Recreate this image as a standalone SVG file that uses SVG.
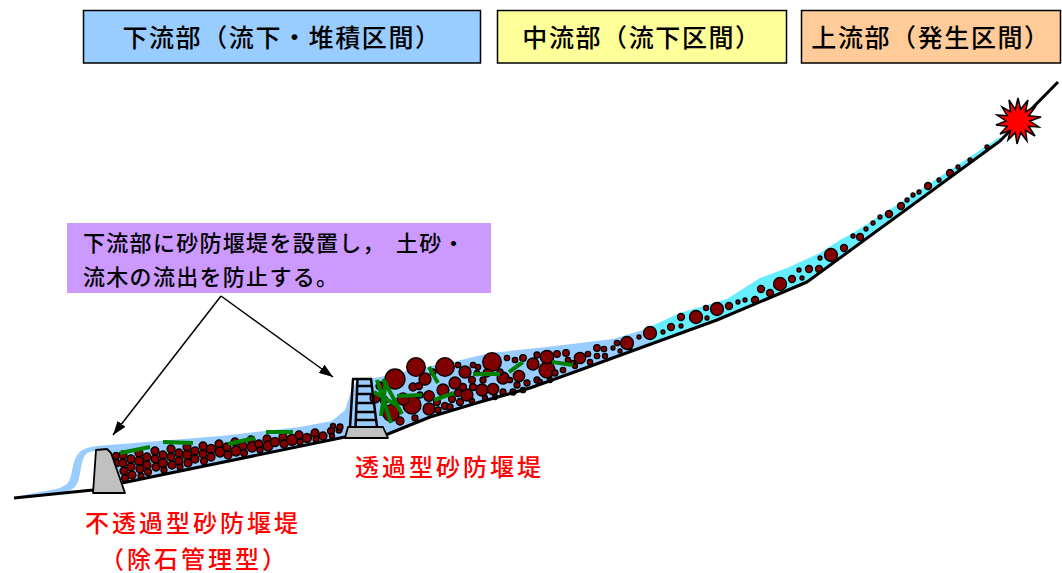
<svg xmlns="http://www.w3.org/2000/svg" width="1062" height="573" viewBox="0 0 1062 573">
<style>
.hdr{stroke:#000;stroke-width:1.5}
.ht{font-family:"Noto Sans CJK JP","Noto Sans CJK SC",sans-serif;font-weight:500;font-size:25px;letter-spacing:1.6px;fill:#000;text-anchor:middle}
.ct{font-family:"Noto Sans CJK JP","Noto Sans CJK SC",sans-serif;font-weight:500;font-size:22px;letter-spacing:1.3px;fill:#000}
.rt{font-family:"Noto Sans CJK JP","Noto Sans CJK SC",sans-serif;font-weight:500;font-size:24px;letter-spacing:3px;fill:#ff0000}
.b circle{fill:#800000;stroke:#000;stroke-width:1.3}
.w line{stroke:#008000;stroke-width:4}
.gl{fill:none;stroke:#000;stroke-width:3;stroke-linejoin:round}
.lad{stroke:#000;fill:none;stroke-width:2.5}
.conn line{stroke:#000;stroke-width:1.5}
.dam{fill:#c0c0c0;stroke:#000;stroke-width:1.8;stroke-linejoin:round}
</style>
<defs>
<marker id="ah" viewBox="0 0 14 10" refX="14" refY="5" markerWidth="14" markerHeight="10" markerUnits="userSpaceOnUse" orient="auto"><path d="M0,0 L14,5 L0,10 Z" fill="#000"/></marker>
</defs>
<rect width="1062" height="573" fill="#fff"/>

<g id="hdr-lower"><rect class="hdr" x="83.5" y="10.5" width="397" height="52.5" fill="#99ccff"/><text class="ht" x="282" y="47">下流部（流下・堆積区間）</text></g>
<g id="hdr-middle"><rect class="hdr" x="497.5" y="10.5" width="289" height="52.5" fill="#ffff99"/><text class="ht" x="642" y="47">中流部（流下区間）</text></g>
<g id="hdr-upper"><rect class="hdr" x="801.5" y="10.5" width="259" height="52.5" fill="#ffcc99"/><text class="ht" x="931" y="47">上流部（発生区間）</text></g>

<g id="water">
<path fill="#66eeff" d="M605,342 L643,330 L680,313 L727,299 L760,278 L787,268 L820,253 L840,240 L853,233 L900,203 L1000,137 L1003,140 L807,283 L717,321 L640,349 L605,360 Z"/>
<path fill="#99ccff" d="M14,497 L56,489 C65,487 69,483 71,476 C73,466 74,459 78,454 C82,449 88,447 97,446 L97,451 C90,451 86,453 84,457 C81,463 81,471 79,478 C77,487 72,491 62,493 Z"/>
<path fill="#99ccff" d="M97,446 L220,436 L300,427 L332,421 L345,410 L351,392 L357,380 L380,377 L420,368 L457,361 L490,353 L547,347 L613,339 L640,331 L650,330 L650,345 L640,348 L580,370 L530,388 L480,402 L430,417 L388,434 L345,438 L122,483 L97,483 Z"/>
</g>

<g id="boulders" class="b">
<circle cx="116" cy="456" r="3.5"/><circle cx="117" cy="463" r="3.5"/>
<circle cx="123" cy="455" r="4"/><circle cx="123" cy="463" r="4"/><circle cx="124" cy="471" r="4"/><circle cx="125" cy="478" r="3.5"/>
<circle cx="131" cy="459" r="4"/><circle cx="131" cy="467" r="4"/><circle cx="132" cy="475" r="4"/>
<circle cx="139" cy="453" r="4"/><circle cx="139" cy="461" r="4.5"/><circle cx="140" cy="469" r="4"/><circle cx="141" cy="476" r="3"/>
<circle cx="147" cy="457" r="4"/><circle cx="147" cy="465" r="4"/><circle cx="148" cy="472" r="3.5"/>
<circle cx="155" cy="451" r="4"/><circle cx="155" cy="459" r="4"/><circle cx="156" cy="467" r="4"/>
<circle cx="163" cy="455" r="4"/><circle cx="163" cy="463" r="4.5"/><circle cx="164" cy="470" r="3"/>
<circle cx="171" cy="449" r="4"/><circle cx="171" cy="457" r="4"/><circle cx="172" cy="465" r="4"/>
<circle cx="179" cy="453" r="4"/><circle cx="179" cy="461" r="4"/><circle cx="180" cy="467" r="3"/>
<circle cx="187" cy="447" r="4"/><circle cx="187" cy="455" r="4.5"/><circle cx="188" cy="463" r="4"/>
<circle cx="195" cy="451" r="4"/><circle cx="195" cy="459" r="4"/>
<circle cx="203" cy="446" r="4"/><circle cx="203" cy="454" r="4"/><circle cx="204" cy="461" r="3.5"/>
<circle cx="211" cy="449" r="4.5"/><circle cx="211" cy="457" r="4"/>
<circle cx="219" cy="444" r="4"/><circle cx="220" cy="452" r="5"/>
<circle cx="227" cy="447" r="4"/><circle cx="228" cy="455" r="4"/>
<circle cx="235" cy="442" r="4"/><circle cx="236" cy="451" r="5"/>
<circle cx="243" cy="446" r="4"/><circle cx="244" cy="453" r="3.5"/>
<circle cx="251" cy="440" r="4"/><circle cx="252" cy="447" r="5"/>
<circle cx="259" cy="444" r="4"/><circle cx="260" cy="450" r="3"/>
<circle cx="267" cy="439" r="4"/><circle cx="268" cy="446" r="5"/>
<circle cx="275" cy="442" r="4.5"/>
<circle cx="283" cy="437" r="4"/><circle cx="284" cy="444" r="4"/>
<circle cx="292" cy="440" r="5.5"/>
<circle cx="299" cy="435" r="4"/><circle cx="300" cy="442" r="3"/>
<circle cx="307" cy="438" r="4.5"/>
<circle cx="315" cy="433" r="4"/><circle cx="316" cy="439" r="3"/>
<circle cx="323" cy="436" r="4"/>
<circle cx="331" cy="431" r="3.5"/><circle cx="332" cy="436" r="2.5"/>
<circle cx="339" cy="430" r="3"/>

<circle cx="375" cy="398" r="5"/><circle cx="380" cy="386" r="4"/><circle cx="384" cy="400" r="4"/>
<circle cx="395" cy="379" r="10"/><circle cx="416" cy="367" r="9.3"/><circle cx="445" cy="367" r="9.3"/><circle cx="492" cy="362" r="9.3"/>
<circle cx="391" cy="413" r="8.3"/><circle cx="412" cy="405" r="9"/>
<circle cx="547" cy="370" r="8"/><circle cx="547" cy="357" r="6.7"/>
<circle cx="425" cy="379" r="6"/><circle cx="403" cy="399" r="6"/><circle cx="429" cy="409" r="6"/><circle cx="443" cy="390" r="6"/>
<circle cx="455" cy="383" r="6"/><circle cx="465" cy="372" r="6"/><circle cx="467" cy="395" r="6"/><circle cx="482" cy="390" r="6"/>
<circle cx="429" cy="396" r="5.3"/><circle cx="493" cy="389" r="5.7"/><circle cx="503" cy="378" r="6"/><circle cx="519" cy="376" r="5.7"/>
<circle cx="533" cy="364" r="6"/><circle cx="580" cy="358" r="5.7"/>
<circle cx="413" cy="387" r="4"/><circle cx="419" cy="386" r="3.5"/><circle cx="437" cy="402" r="3.5"/><circle cx="445" cy="406" r="3.5"/>
<circle cx="452" cy="399" r="3.5"/><circle cx="460" cy="402" r="3.5"/><circle cx="458" cy="393" r="3.5"/><circle cx="463" cy="387" r="3.5"/>
<circle cx="473" cy="387" r="3.5"/><circle cx="472" cy="380" r="3.5"/><circle cx="477" cy="373" r="2.7"/><circle cx="478" cy="367" r="2.7"/>
<circle cx="473" cy="365" r="2.7"/><circle cx="458" cy="365" r="2.7"/><circle cx="487" cy="373" r="4"/><circle cx="500" cy="372" r="3"/>
<circle cx="507" cy="358" r="2.7"/><circle cx="515" cy="360" r="2.7"/><circle cx="523" cy="358" r="3.3"/><circle cx="510" cy="380" r="2.7"/>
<circle cx="517" cy="385" r="3"/><circle cx="527" cy="383" r="3"/><circle cx="537" cy="380" r="3"/><circle cx="503" cy="392" r="3"/>
<circle cx="513" cy="392" r="3"/><circle cx="523" cy="390" r="2.7"/><circle cx="537" cy="355" r="3"/><circle cx="557" cy="354" r="3.3"/>
<circle cx="566" cy="353" r="3.3"/><circle cx="555" cy="373" r="3"/><circle cx="563" cy="370" r="2.7"/><circle cx="568" cy="360" r="2.7"/>
<circle cx="573" cy="363" r="2.7"/><circle cx="588" cy="354" r="2.7"/><circle cx="590" cy="362" r="2.7"/><circle cx="597" cy="348" r="3.3"/>
<circle cx="597" cy="356" r="2.7"/><circle cx="604" cy="349" r="2.7"/><circle cx="617" cy="343" r="2.7"/><circle cx="613" cy="348" r="2"/>
<circle cx="400" cy="421" r="4"/><circle cx="415" cy="418" r="3"/><circle cx="420" cy="395" r="3"/><circle cx="438" cy="410" r="3"/>
<circle cx="450" cy="407" r="3"/><circle cx="472" cy="401" r="2.5"/><circle cx="485" cy="398" r="2.5"/><circle cx="495" cy="397" r="2.5"/>
<circle cx="433" cy="372" r="3"/><circle cx="483" cy="380" r="3"/><circle cx="540" cy="382" r="2.5"/><circle cx="550" cy="380" r="2.5"/>
<circle cx="575" cy="366" r="2.5"/><circle cx="605" cy="356" r="2.5"/><circle cx="620" cy="351" r="2"/><circle cx="630" cy="348" r="2"/>
<circle cx="333" cy="426" r="2.5"/><circle cx="340" cy="427" r="3"/>

<circle cx="627" cy="343" r="6.5"/><circle cx="650" cy="333" r="6.5"/><circle cx="639" cy="337" r="2"/><circle cx="663" cy="332" r="2"/>
<circle cx="671" cy="327" r="3.5"/><circle cx="681" cy="317" r="3.5"/><circle cx="681" cy="326" r="2"/><circle cx="696" cy="317" r="6.5"/>
<circle cx="706" cy="308" r="2.5"/><circle cx="707" cy="318" r="2"/><circle cx="717" cy="309" r="6.5"/><circle cx="729" cy="306" r="3.5"/>
<circle cx="738" cy="302" r="2"/><circle cx="745" cy="300" r="2"/><circle cx="755" cy="300" r="3.5"/><circle cx="761" cy="289" r="3.5"/>
<circle cx="770" cy="293" r="3.5"/><circle cx="780" cy="284" r="6.5"/><circle cx="792" cy="279" r="3.5"/><circle cx="799" cy="270" r="2"/>
<circle cx="802" cy="278" r="2"/><circle cx="809" cy="269" r="3.5"/><circle cx="819" cy="269" r="3.5"/><circle cx="820" cy="258" r="2"/>
<circle cx="831" cy="255" r="6.5"/><circle cx="844" cy="248" r="3.5"/><circle cx="853" cy="236" r="2"/><circle cx="860" cy="237" r="3.5"/>
<circle cx="866" cy="229" r="2"/><circle cx="873" cy="223" r="2"/><circle cx="880" cy="217" r="2"/><circle cx="889" cy="214" r="3.5"/>
<circle cx="901" cy="206" r="3.5"/><circle cx="907" cy="200" r="2"/><circle cx="913" cy="195" r="2"/><circle cx="919" cy="192" r="2"/>
<circle cx="928" cy="186" r="3.5"/><circle cx="939" cy="180" r="2"/><circle cx="950" cy="173" r="3.5"/><circle cx="958" cy="167" r="2"/>
<circle cx="970" cy="160" r="2"/><circle cx="987" cy="147" r="2"/>
</g>

<path id="ground" class="gl" d="M14,498 L93,490 L122,483 L345,437 L388,434 L430,417 L480,402 L530,388 L580,370 L640,348 L717,320 L807,282 L1000,141 L1058,82"/>

<g id="dam-impermeable">
<path class="dam" d="M96,450 L107,449 L111,453 L125,493 L93,493 Z"/>
</g>

<g id="dam-permeable">
<path class="dam" d="M348,427 L383,427 L388,438 L345,438 Z"/>
<line class="lad" x1="353" y1="379" x2="350" y2="427"/>
<line class="lad" x1="357.5" y1="379" x2="355.5" y2="427" stroke-width="2"/>
<line class="lad" x1="371" y1="379" x2="377" y2="427"/>
<path class="lad" d="M352,379 H372 M357,386 H372"/>
<path class="lad" stroke-width="2" d="M356,394 H373 M356,403 H374 M355.5,412 H375 M355.5,420 H376"/>
</g>

<g id="wood" class="w">
<line x1="120" y1="453" x2="150" y2="447"/>
<line x1="163" y1="442" x2="193" y2="443"/>
<line x1="228" y1="444" x2="255" y2="438"/>
<line x1="266" y1="432" x2="293" y2="432"/>
<line x1="377" y1="380" x2="391" y2="423"/>
<line x1="383" y1="379" x2="402" y2="414"/>
<line x1="374" y1="392" x2="398" y2="406"/>
<line x1="386" y1="381" x2="381" y2="416"/>
<line x1="429" y1="367" x2="438" y2="383"/>
<line x1="397" y1="396" x2="422" y2="395"/>
<line x1="434" y1="400" x2="454" y2="393"/>
<line x1="473" y1="374" x2="500" y2="374"/>
<line x1="509" y1="372" x2="523" y2="362"/>
<line x1="552" y1="362" x2="573" y2="365"/>
</g>

<g id="source">
<polygon fill="#ff0000" stroke="#000" stroke-width="1.5" stroke-linejoin="miter" points="1018,98 1020.7,109.3 1028,100 1025.5,111.7 1036,106 1028.8,115.7 1041,117 1030,121 1039,127 1028.8,126.3 1035,136 1025.5,130.3 1027,141 1020.7,132.7 1017,144 1015.3,132.7 1008,140 1010.5,130.3 1000,134 1007.2,126.3 996,125 1006,121 997,115 1007.2,115.7 1002,107 1010.5,111.7 1009,100 1015.3,109.3"/>
</g>

<g id="callout">
<rect x="67" y="223" width="424" height="70" fill="#cc99ff"/>
<text class="ct" x="83" y="251">下流部に砂防堰堤を設置し，<tspan dx="10">土砂・</tspan></text>
<text class="ct" x="83" y="285">流木の流出を防止する。</text>
</g>

<g id="connectors" class="conn">
<line x1="221" y1="296" x2="113" y2="435" marker-end="url(#ah)"/>
<line x1="221" y1="296" x2="333" y2="377" marker-end="url(#ah)"/>
</g>

<g id="label-permeable"><text class="rt" x="355" y="476">透過型砂防堰堤</text></g>
<g id="label-impermeable">
<text class="rt" x="85" y="532">不透過型砂防堰堤</text>
<text class="rt" x="100" y="568">（除石管理型）</text>
</g>
</svg>
